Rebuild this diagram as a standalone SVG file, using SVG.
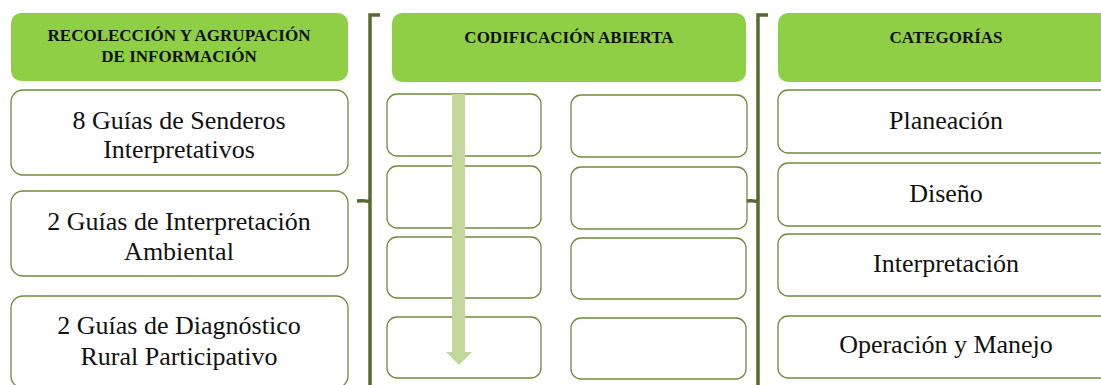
<svg xmlns="http://www.w3.org/2000/svg" width="1101" height="385" viewBox="0 0 1101 385">
<style>
.hdr{fill:#8ecf45;stroke:none}
.box{fill:#fff;stroke:#6e8b3d;stroke-width:1.3}
.ht{font-family:'Liberation Serif','Times New Roman','DejaVu Serif',serif;font-weight:bold;font-size:17px;fill:#111;text-anchor:middle}
.bt{font-family:'Liberation Serif','Times New Roman','DejaVu Serif',serif;font-size:26px;fill:#111;text-anchor:middle}
.br{fill:none;stroke:#556b2f;stroke-width:3.5}
</style>
<rect width="1101" height="385" fill="#fff"/>
<g id="col1">
<g id="h1"><rect class="hdr" x="11" y="13" width="337" height="68" rx="10"/>
<text class="ht" x="179" y="41">RECOLECCIÓN Y AGRUPACIÓN</text>
<text class="ht" x="179" y="62">DE INFORMACIÓN</text></g>
<g id="l1"><rect class="box" x="11" y="90" width="337" height="85" rx="12"/>
<text class="bt" x="179" y="129">8 Guías de Senderos</text>
<text class="bt" x="179" y="158">Interpretativos</text></g>
<g id="l2"><rect class="box" x="11" y="191" width="337" height="85" rx="12"/>
<text class="bt" x="179" y="230">2 Guías de Interpretación</text>
<text class="bt" x="179" y="260">Ambiental</text></g>
<g id="l3"><rect class="box" x="11" y="296" width="337" height="92" rx="12"/>
<text class="bt" x="179" y="334">2 Guías de Diagnóstico</text>
<text class="bt" x="179" y="365">Rural Participativo</text></g>
</g>
<g id="col2">
<g id="h2"><rect class="hdr" x="392" y="13" width="354" height="69" rx="10"/>
<text class="ht" x="569" y="43">CODIFICACIÓN ABIERTA</text></g>
<g id="m1"><rect class="box" x="387" y="94" width="154" height="62" rx="10"/></g>
<g id="m2"><rect class="box" x="571" y="95" width="176" height="62" rx="10"/></g>
<g id="m3"><rect class="box" x="387" y="166" width="154" height="62" rx="10"/></g>
<g id="m4"><rect class="box" x="571" y="167" width="176" height="62" rx="10"/></g>
<g id="m5"><rect class="box" x="387" y="237" width="154" height="61" rx="10"/></g>
<g id="m6"><rect class="box" x="571" y="238" width="175" height="61" rx="10"/></g>
<g id="m7"><rect class="box" x="387" y="317" width="154" height="61" rx="10"/></g>
<g id="m8"><rect class="box" x="571" y="318" width="175" height="61" rx="10"/></g>
<g id="arrow"><polygon fill="#c4d79b" points="452,94 465,94 465,352 472,352 459,365 446,352 452,352"/></g>
</g>
<g id="col3">
<g id="h3"><rect class="hdr" x="778" y="13" width="340" height="69" rx="10"/>
<text class="ht" x="946" y="43">CATEGORÍAS</text></g>
<g id="r1"><rect class="box" x="778" y="90" width="340" height="63" rx="10"/>
<text class="bt" x="946" y="129">Planeación</text></g>
<g id="r2"><rect class="box" x="778" y="163" width="340" height="63" rx="10"/>
<text class="bt" x="946" y="202">Diseño</text></g>
<g id="r3"><rect class="box" x="778" y="234" width="340" height="62" rx="10"/>
<text class="bt" x="946" y="272">Interpretación</text></g>
<g id="r4"><rect class="box" x="778" y="316" width="340" height="62" rx="10"/>
<text class="bt" x="946" y="353">Operación y Manejo</text></g>
</g>
<g id="connectors">
<path class="br" d="M380,15 L370,15 L370,390 M370,202 Q366,200 357,201"/>
<path class="br" d="M768,15 L758,15 L758,390 M758,202 Q754,200 747,201"/>
</g>
</svg>
